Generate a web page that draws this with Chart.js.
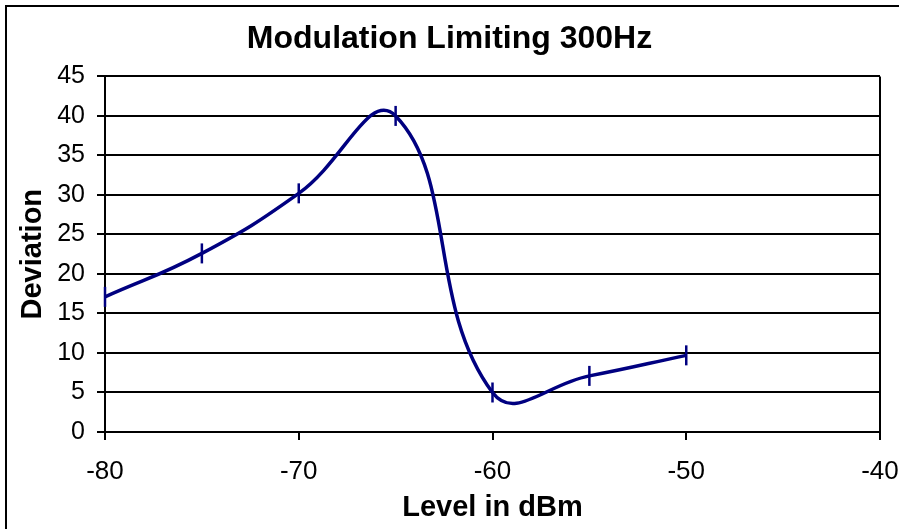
<!DOCTYPE html>
<html>
<head>
<meta charset="utf-8">
<script src="https://cdn.jsdelivr.net/npm/chart.js@4"></script>
<style>
  html, body { margin: 0; padding: 0; background: #fff; }
  #wrap { width: 899px; height: 529px; }
</style>
</head>
<body>
<div id="wrap"><canvas id="mychart" width="899" height="529"></canvas></div>
<script>
// values
const levels = [-80, -75, -70, -65, -60, -55, -50];
const deviation = [17.1, 22.6, 30.2, 40, 5, 7.1, 9.7];
const xTicks = [-80, -70, -60, -50, -40];
const yTicks = [0, 5, 10, 15, 20, 25, 30, 35, 40, 45];

let navy = '#000080';
let font = 'Arial, "Liberation Sans", sans-serif';

// outer frame + right side of plot box
const frames = {
  id: 'frames',
  afterDraw(chart) {
    const c = chart.ctx, a = chart.chartArea;
    c.save();
    c.strokeStyle = '#000';
    c.lineWidth = 2;
    c.beginPath();
    c.moveTo(6, 529); c.lineTo(6, 6); c.lineTo(899, 6);
    c.stroke();
    c.beginPath();
    c.moveTo(a.right, a.top); c.lineTo(a.right, a.bottom + 8);
    c.stroke();
    c.restore();
  }
};

let ctx = document.getElementById('mychart').getContext('2d');
let chart = new Chart(ctx, {
  type: 'line',
  data: {
    datasets: [{
      label: 'Deviation',
      data: levels.map((x, i) => ({x: x, y: deviation[i]})),
      borderColor: navy,
      borderWidth: 3.5,
      tension: 0.45,
      fill: false,
      clip: false,
      pointStyle: 'line',
      rotation: 90,
      pointRadius: 10,
      pointHoverRadius: 10,
      pointBorderWidth: 2.5,
      pointBorderColor: navy,
      pointBackgroundColor: navy
    }]
  },
  options: {
    responsive: false,
    animation: false,
    layout: { padding: 0 },
    scales: {
      x: {
        type: 'linear',
        min: -80, max: -40,
        afterBuildTicks: s => { s.ticks = xTicks.map(v => ({value: v})); },
        afterFit: s => { s.height = 97; s.paddingLeft = 0; s.paddingRight = 0; },
        ticks: { color: '#000', padding: 16, font: { family: font, size: 26 } },
        grid: { drawOnChartArea: false, drawTicks: true, tickLength: 8, color: '#000', lineWidth: 2 },
        border: { color: '#000', width: 2 },
        title: { display: true, text: 'Level in dBm', color: '#000', padding: { top: 0, bottom: 4 },
          font: { family: font, size: 29, weight: 'bold' } }
      },
      y: {
        min: 0, max: 45,
        afterBuildTicks: s => { s.ticks = yTicks.map(v => ({value: v})); },
        afterFit: s => { s.width = 105; },
        ticks: { color: '#000', padding: 12, font: { family: font, size: 25 } },
        grid: { color: '#000', lineWidth: 2, tickLength: 8 },
        border: { color: '#000', width: 2 },
        title: { display: true, text: 'Deviation', color: '#000', padding: { top: 16, bottom: 0 },
          font: { family: font, size: 29, weight: 'bold' } }
      },
      // empty strip on the right, keeps the plot box off the edge
      y2: {
        position: 'right',
        min: 0, max: 45,
        afterFit: s => { s.width = 19; },
        ticks: { display: false },
        grid: { display: false, drawTicks: false },
        border: { display: false }
      }
    },
    plugins: {
      legend: { display: false },
      tooltip: { enabled: false },
      title: {
        display: true,
        text: 'Modulation Limiting 300Hz',
        color: '#000',
        padding: { top: 20, bottom: 18 },
        font: { family: font, size: 32, weight: 'bold' }
      }
    }
  },
  plugins: [frames]
});
</script>
</body>
</html>
